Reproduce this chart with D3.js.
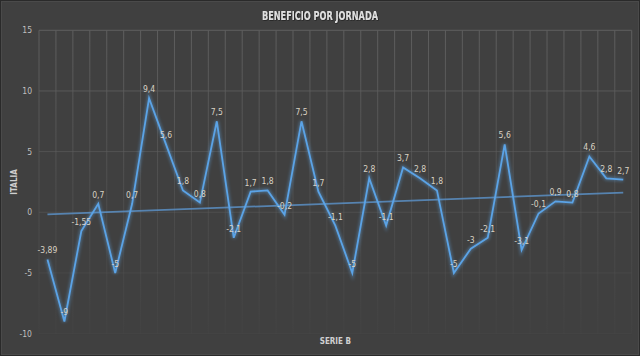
<!DOCTYPE html>
<html><head><meta charset="utf-8">
<script src="https://cdn.jsdelivr.net/npm/d3@7"></script>
<style>
html,body{margin:0;padding:0;background:#404040;}
svg{display:block;}
</style></head>
<body>
<script>
const categories = d3.range(1, 36);
const values = [-3.89,-9,-1.55,0.7,-5,0.7,9.4,5.6,1.8,0.8,7.5,-2.1,1.7,1.8,-0.2,7.5,1.7,-1.1,-5,2.8,-1.1,3.7,2.8,1.8,-5,-3,-2.1,5.6,-3.1,-0.1,0.9,0.8,4.6,2.8,2.7];
const yTicks = [-10,-5,0,5,10,15];
const title = "BENEFICIO POR JORNADA";
const xTitle = "SERIE B";
const yTitle = "ITALIA";

const W = 640, H = 356;
const m = {left:39, right:8.3, top:30.3, bottom:22.4};
const svg = d3.select("body").append("svg").attr("width",W).attr("height",H);
const defs = svg.append("defs");
const grad = defs.append("linearGradient").attr("id","gridGrad")
  .attr("gradientUnits","userSpaceOnUse").attr("x1",0).attr("x2",0)
  .attr("y1",m.top).attr("y2",H-m.bottom);
grad.append("stop").attr("offset","0%").attr("stop-color","#5e5e5e").attr("stop-opacity",1);
grad.append("stop").attr("offset","55%").attr("stop-color","#5e5e5e").attr("stop-opacity",0.45);
grad.append("stop").attr("offset","100%").attr("stop-color","#5e5e5e").attr("stop-opacity",0.08);
const glow = defs.append("filter").attr("id","glow").attr("x","-10%").attr("y","-10%").attr("width","120%").attr("height","120%");
glow.append("feGaussianBlur").attr("in","SourceGraphic").attr("stdDeviation",1.8);
const tshadow = defs.append("filter").attr("id","tshadow");
tshadow.append("feDropShadow").attr("dx",0.6).attr("dy",0.6).attr("stdDeviation",0.5).attr("flood-color","#000").attr("flood-opacity",0.6);

svg.append("rect").attr("x",0.5).attr("y",0.5).attr("width",W-1).attr("height",H-1)
  .attr("fill","#404040").attr("stroke","#2a2a2a").attr("stroke-width",1);
svg.append("rect").attr("x",1.5).attr("y",1.5).attr("width",W-3).attr("height",H-3)
  .attr("fill","none").attr("stroke","#4a4a4a").attr("stroke-width",1);

const x = d3.scaleBand().domain(categories).range([m.left, W-m.right]);
const y = d3.scaleLinear().domain([-10,15]).range([H-m.bottom, m.top]);
const cx = d => x(d) + x.bandwidth()/2;

const g = svg.append("g");
const bounds = categories.map(c => x(c)).concat([W-m.right]);
g.selectAll("line.vg").data(bounds).enter().append("line")
  .attr("x1",d=>d).attr("x2",d=>d).attr("y1",m.top).attr("y2",H-m.bottom)
  .attr("stroke","url(#gridGrad)").attr("stroke-width",1);
const hOp = d3.scaleLinear().domain([15,-10]).range([1,0.1]);
g.selectAll("line.hg").data(yTicks).enter().append("line")
  .attr("x1",m.left).attr("x2",W-m.right).attr("y1",d=>y(d)).attr("y2",d=>y(d))
  .attr("stroke","#5e5e5e").attr("stroke-opacity",d=>hOp(d)).attr("stroke-width",1);

const font = "'Liberation Sans Narrow','DejaVu Sans Condensed','Liberation Sans',sans-serif";
svg.selectAll("text.yt").data(yTicks).enter().append("text")
  .attr("x",32).attr("y",d=>y(d)+3).attr("text-anchor","end")
  .attr("font-family",font).attr("font-size",8.5).attr("fill","#bfbfbf")
  .text(d=>d);

const n = values.length;
const xs = d3.range(n);
const mx = d3.mean(xs), my = d3.mean(values);
const slope = d3.sum(xs.map(i => (i-mx)*(values[i]-my))) / d3.sum(xs.map(i => (i-mx)*(i-mx)));
const icpt = my - slope*mx;
svg.append("line")
  .attr("x1",cx(categories[0])).attr("y1",y(icpt))
  .attr("x2",cx(categories[n-1])).attr("y2",y(icpt+slope*(n-1)))
  .attr("stroke","#5a8fc4").attr("stroke-width",1.8).attr("stroke-opacity",0.85);

const line = d3.line().x((d,i)=>cx(categories[i])).y(d=>y(d));
svg.append("path").datum(values).attr("d",line)
  .attr("fill","none").attr("stroke","#5b9bd5").attr("stroke-opacity",0.45).attr("stroke-width",4)
  .attr("filter","url(#glow)");
svg.append("path").datum(values).attr("d",line)
  .attr("fill","none").attr("stroke","#5ba3e6").attr("stroke-width",1.8).attr("stroke-linejoin","miter");

const fmt = v => String(v).replace(".",",");
svg.selectAll("text.dl").data(values).enter().append("text")
  .attr("x",(d,i)=>cx(categories[i])).attr("y",d=>y(d)-6)
  .attr("text-anchor","middle").attr("font-family",font).attr("font-size",8.5)
  .attr("fill","#d9d2c4").text(fmt);

svg.append("text").attr("x",320).attr("y",20).attr("text-anchor","middle")
  .attr("font-family",font).attr("font-weight","bold").attr("font-size",11.5)
  .attr("textLength",116).attr("lengthAdjust","spacingAndGlyphs")
  .attr("fill","#e0e0e0").attr("filter","url(#tshadow)").text(title);
svg.append("text").attr("x",(m.left+W-m.right)/2).attr("y",344).attr("text-anchor","middle")
  .attr("font-family",font).attr("font-weight","bold").attr("font-size",8)
  .attr("fill","#d0d0d0").text(xTitle);
svg.append("text").attr("transform",`translate(17,${(m.top+H-m.bottom)/2}) rotate(-90)`)
  .attr("text-anchor","middle").attr("font-family",font).attr("font-weight","bold").attr("font-size",8)
  .attr("fill","#d0d0d0").text(yTitle);
</script>
</body></html>
